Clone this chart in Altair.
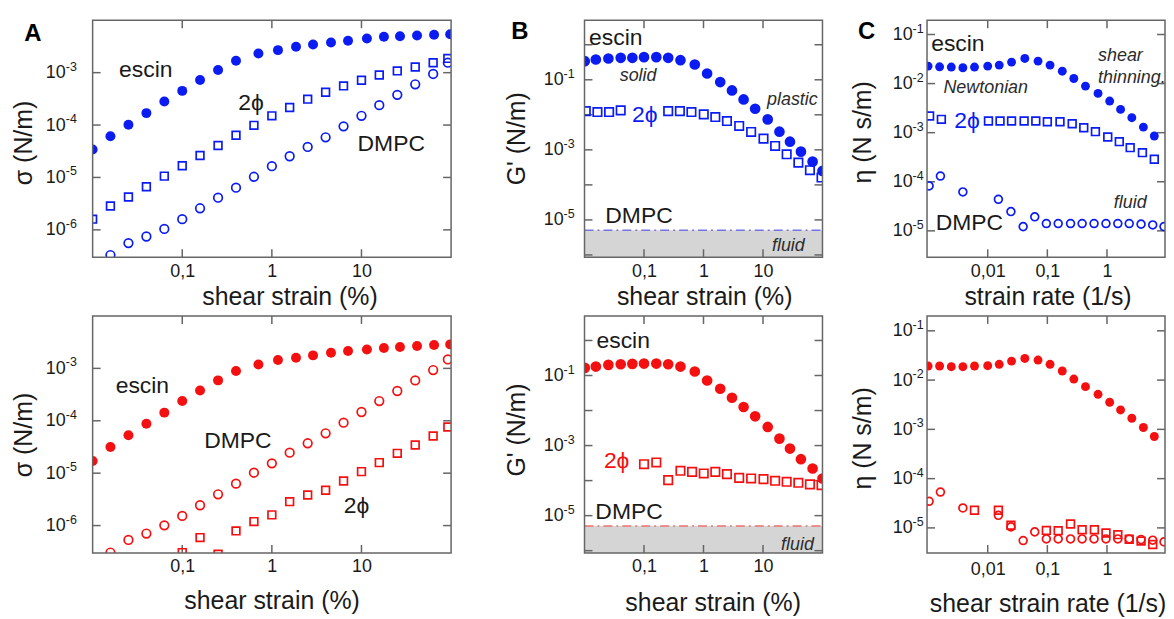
import altair as alt
import pandas as pd

# ---------------- values ----------------
strain_grid = [0.01, 0.0158, 0.0251, 0.0398, 0.0631, 0.1, 0.158, 0.251, 0.398, 0.631,
               1.0, 1.58, 2.51, 3.98, 6.31, 10.0, 15.8, 25.1, 39.8, 63.1, 92.0]
strain_escin_A = [0.01, 0.0158, 0.0251, 0.0398, 0.0631, 0.1, 0.158, 0.251, 0.398, 0.708,
                  1.17, 1.86, 2.88, 4.57, 7.08, 11.5, 17.8, 26.9, 41.7, 64.6, 97.7]
strain_dmpc_A = [0.0158, 0.0251, 0.0398, 0.0631, 0.1, 0.158, 0.251, 0.398, 0.631, 1.0,
                 1.58, 2.51, 3.98, 6.31, 10.0, 15.8, 25.1, 39.8, 63.1, 92.0]

# Panel A top (blue): sigma (N/m)
A1_escin = [3.40e-5, 6.1e-5, 1.01e-4, 1.69e-4, 2.81e-4, 4.49e-4, 7.26e-4, 1.12e-3, 1.69e-3, 2.33e-3,
            2.69e-3, 3.12e-3, 3.45e-3, 3.77e-3, 4.06e-3, 4.49e-3, 4.83e-3, 4.97e-3, 5.12e-3, 5.27e-3, 5.42e-3]
A1_2phi = [1.60e-6, 2.86e-6, 4.24e-6, 6.65e-6, 1.06e-5, 1.67e-5, 2.62e-5, 4.06e-5, 6.37e-5, 9.87e-5,
           1.50e-4, 2.16e-4, 3.12e-4, 4.24e-4, 5.59e-4, 7.15e-4, 9.03e-4, 1.08e-3, 1.28e-3, 1.55e-3, 1.87e-3]
A1_dmpc = [3.30e-7, 5.58e-7, 7.47e-7, 1.04e-6, 1.60e-6, 2.58e-6, 4.11e-6, 6.37e-6, 1.03e-5, 1.64e-5,
           2.54e-5, 3.82e-5, 5.83e-5, 9.44e-5, 1.50e-4, 2.40e-4, 3.77e-4, 6.00e-4, 9.44e-4, 1.55e-3]

# Panel A bottom (red)
A2_escin = [1.71e-5, 3.16e-5, 5.28e-5, 8.80e-5, 1.43e-4, 2.38e-4, 3.80e-4, 5.90e-4, 8.89e-4, 1.19e-3,
            1.44e-3, 1.60e-3, 1.77e-3, 1.99e-3, 2.14e-3, 2.30e-3, 2.44e-3, 2.55e-3, 2.67e-3, 2.79e-3, 2.87e-3]
A2_dmpc = [3.05e-7, 5.32e-7, 7.03e-7, 1.01e-6, 1.53e-6, 2.44e-6, 3.95e-6, 6.31e-6, 1.02e-5, 1.54e-5,
           2.46e-5, 3.72e-5, 5.76e-5, 9.20e-5, 1.47e-4, 2.38e-4, 3.70e-4, 5.90e-4, 9.29e-4, 1.48e-3]
A2_2phi_x = [0.1, 0.158, 0.251, 0.398, 0.631, 1.0, 1.58, 2.51, 3.98, 6.31, 10.0, 15.8, 25.1, 39.8, 63.1, 92.0]
A2_2phi = [3.05e-7, 5.89e-7, 2.83e-7, 7.91e-7, 1.19e-6, 1.60e-6, 2.86e-6, 3.84e-6, 4.71e-6, 7.10e-6,
           1.07e-5, 1.59e-5, 2.39e-5, 3.45e-5, 5.12e-5, 7.60e-5]

# Panel B: G' (N/m)
strain_escin_B = [0.0101, 0.0155, 0.0252, 0.0406, 0.0637, 0.1, 0.161, 0.255, 0.41, 0.714,
                  1.15, 1.91, 3.01, 4.72, 7.38, 12.0, 18.9, 28.4, 43.4, 68.2, 100.0]
B1_escin = [0.340, 0.379, 0.405, 0.424, 0.424, 0.443, 0.443, 0.424, 0.363, 0.273, 0.151,
            0.0859, 0.0497, 0.0275, 0.0149, 7.41e-3, 3.30e-3, 1.71e-3, 8.89e-4, 4.61e-4, 2.50e-4]
B1_2phi_x = [0.0105, 0.0165, 0.0259, 0.0406, 0.255, 0.401, 0.627, 1.01, 1.58, 2.48, 3.98,
             6.32, 10.2, 16.0, 25.0, 39.3, 61.5, 96.4]
B1_2phi = [0.0128, 0.0120, 0.0120, 0.0134, 0.0128, 0.0128, 0.0120, 0.0103, 8.65e-3, 6.65e-3,
           4.80e-3, 3.24e-3, 2.09e-3, 1.29e-3, 7.48e-4, 4.33e-4, 2.62e-4, 1.62e-4]
B2_escin = [0.165, 0.180, 0.201, 0.210, 0.215, 0.219, 0.219, 0.210, 0.180, 0.130, 0.0721,
            0.0418, 0.0232, 0.0126, 6.83e-3, 3.40e-3, 1.58e-3, 8.22e-4, 4.08e-4, 2.22e-4, 1.15e-4]
B2_2phi_x = [0.1, 0.161, 0.255, 0.41, 0.643, 1.01, 1.58, 2.48, 3.98, 6.32, 10.2, 16.0, 25.0, 39.3, 61.5, 96.4]
B2_2phi = [2.94e-4, 3.29e-4, 1.03e-4, 1.91e-4, 1.78e-4, 1.60e-4, 1.78e-4, 1.53e-4, 1.20e-4,
           1.15e-4, 1.10e-4, 9.89e-5, 9.27e-5, 8.68e-5, 7.78e-5, 7.45e-5]
dmpc_Gp_level = [5.1e-6]

# Panel C: eta (N s/m) vs strain rate (1/s)
rate_escin = [0.001, 0.00156, 0.00245, 0.00383, 0.0060, 0.01, 0.0156, 0.0251, 0.0419, 0.0698,
              0.111, 0.178, 0.278, 0.436, 0.708, 1.11, 1.69, 2.61, 4.08, 6.22]
C1_escin = [0.0227, 0.0220, 0.0217, 0.0210, 0.0217, 0.0227, 0.0238, 0.0274, 0.0325, 0.0287,
            0.0238, 0.0179, 0.0127, 8.89e-3, 6.31e-3, 4.41e-3, 2.98e-3, 2.02e-3, 1.30e-3, 8.55e-4]
rate_2phi_C1 = [0.00106, 0.00167, 0.0103, 0.0161, 0.0251, 0.0408, 0.064, 0.1, 0.163, 0.261,
                0.408, 0.64, 1.03, 1.61, 2.45, 3.93, 6.22]
C1_2phi = [2.18e-3, 1.87e-3, 1.73e-3, 1.73e-3, 1.73e-3, 1.73e-3, 1.73e-3, 1.67e-3, 1.67e-3,
           1.52e-3, 1.26e-3, 1.05e-3, 8.16e-4, 6.56e-4, 4.95e-4, 3.92e-4, 2.87e-4]
rate_dmpc = [0.00104, 0.00161, 0.00383, 0.0151, 0.0245, 0.0393, 0.0615, 0.0962, 0.152, 0.245,
             0.383, 0.607, 0.962, 1.52, 2.36, 3.73, 5.85, 9.04]
C1_dmpc = [8.22e-5, 1.31e-4, 6.21e-5, 4.40e-5, 2.47e-5, 1.22e-5, 1.93e-5, 1.41e-5, 1.41e-5,
           1.41e-5, 1.41e-5, 1.41e-5, 1.41e-5, 1.41e-5, 1.41e-5, 1.37e-5, 1.32e-5, 1.22e-5]
C2_escin = [0.0193, 0.0193, 0.0187, 0.0187, 0.0193, 0.0196, 0.0209, 0.0243, 0.0275, 0.0255,
            0.0209, 0.0153, 0.0105, 7.36e-3, 5.15e-3, 3.55e-3, 2.48e-3, 1.68e-3, 1.09e-3, 7.16e-4]
C2_dmpc = [3.47e-5, 5.35e-5, 2.54e-5, 1.80e-5, 1.05e-5, 5.54e-6, 8.30e-6, 5.98e-6, 5.98e-6,
           5.98e-6, 5.98e-6, 5.98e-6, 5.98e-6, 5.98e-6, 5.98e-6, 5.80e-6, 5.63e-6, 5.21e-6]
rate_2phi_C2 = [0.006, 0.0151, 0.0245, 0.0962, 0.152, 0.245, 0.383, 0.615, 0.962, 1.52, 2.36, 3.73, 5.85]
C2_2phi = [2.28e-5, 2.28e-5, 1.13e-5, 8.9e-6, 8.8e-6, 1.2e-5, 9.2e-6, 9.2e-6, 7.9e-6, 7.3e-6,
           5.9e-6, 5.4e-6, 4.6e-6]

# tick values / labels
ticks_strain = [0.1, 1, 10]
ticks_rate = [0.01, 0.1, 1]
ticks_A_y = [1e-3, 1e-4, 1e-5, 1e-6]
exps_A_y = ["-3", "-4", "-5", "-6"]
ticks_B_y = [1, 0.1, 0.01, 1e-3, 1e-4, 1e-5, 1e-6]
labels_B_y = [0.1, 1e-3, 1e-5]
exps_B_y = ["-1", "-3", "-5"]
ticks_C_y = [0.1, 0.01, 1e-3, 1e-4, 1e-5]
exps_C_y = ["-1", "-2", "-3", "-4", "-5"]

# ---------------- style ----------------
BLUE = "#0b1cf2"
RED = "#f41010"
FRAME = "#666666"
TXT = "#1a1a1a"
ITAL = "#2c2c2c"
FONT = "Liberation Sans"
TL = 8     # inward tick length
SW = 1.7   # open-marker stroke width
XLABEL = "replace(toString(datum.value), '.', ',')"


def panel(spec):
    W, VW, H = spec["w"], spec["vw"], spec["h"]
    xe = alt.X("x:Q",
               scale=alt.Scale(type="log", domain=spec["xdom"], range=[0, W], nice=False),
               axis=alt.Axis(values=spec["xlab"], labelExpr=XLABEL, ticks=False, domain=False,
                             grid=False, labelPadding=spec["xlp"], labelFontSize=18, labelFont=FONT,
                             labelColor=TXT, labelFlush=False, labelOverlap=False,
                             title=spec["xtitle"], titleX=spec["xtx"], titleY=spec["xty"],
                             titleFontSize=25, titleFont=FONT, titleFontWeight="normal",
                             titleColor=TXT))
    ye = alt.Y("y:Q",
               scale=alt.Scale(type="log", domain=spec["ydom"], nice=False),
               axis=alt.Axis(values=spec["ylab"], labelExpr="'10'", ticks=False, domain=False,
                             grid=False, labelPadding=spec["ylp"], labelFontSize=18, labelFont=FONT,
                             labelColor=TXT, labelFlush=False, labelOverlap=False,
                             title=spec["ytitle"], titleX=spec["ytx"], titleY=spec["yty"],
                             titleFontSize=25, titleFont=FONT, titleFontWeight="normal",
                             titleColor=TXT))
    layers = []
    if "band" in spec:
        level, lcolor = spec["band"]
        bdf = pd.DataFrame({"y": level, "y2": [spec["ydom"][0]]})
        layers.append(alt.Chart(bdf).mark_rect(color="#d5d5d5", clip=True).encode(
            y=ye, y2="y2:Q", x=alt.value(0), x2=alt.value(W)))
        layers.append(alt.Chart(pd.DataFrame({"y": level})).mark_rule(
            color=lcolor, strokeWidth=1.5, strokeDash=[9, 4, 2, 4]).encode(
            y=ye, x=alt.value(0), x2=alt.value(W)))
    xt = pd.DataFrame({"x": spec["xticks"]})
    yt = pd.DataFrame({"y": spec["yticks"]})
    tk = dict(color=FRAME, strokeWidth=1.5)
    layers.append(alt.Chart(xt).mark_rule(**tk).encode(x=xe, y=alt.value(0), y2=alt.value(TL)))
    layers.append(alt.Chart(xt).mark_rule(**tk).encode(x=xe, y=alt.value(H - TL), y2=alt.value(H)))
    layers.append(alt.Chart(yt).mark_rule(**tk).encode(y=ye, x=alt.value(0), x2=alt.value(TL)))
    layers.append(alt.Chart(yt).mark_rule(**tk).encode(y=ye, x=alt.value(W - TL), x2=alt.value(W)))

    # exponents of the y tick labels (superscript)
    edf = pd.DataFrame({"y": spec["ylab"], "e": spec["yexp"]})
    layers.append(alt.Chart(edf).mark_text(font=FONT, fontSize=12.5, color=TXT, align="left",
                                           baseline="middle", dy=-6).encode(
        y=ye, x=alt.value(-spec["ylp"] + 0.5), text="e:N"))

    for kind, xs, ys, color, size in spec["series"]:
        df = pd.DataFrame({"x": xs, "y": ys})
        if kind == "filled":
            m = alt.Chart(df).mark_point(shape="circle", filled=True, color=color, size=size,
                                         opacity=1, clip=True)
        else:
            m = alt.Chart(df).mark_point(shape=kind, filled=False, color=color, size=size,
                                         strokeWidth=SW, opacity=1, clip=True)
        layers.append(m.encode(x=xe, y=ye))

    for xs, ys, ts, color, size, style, align in spec["texts"]:
        df = pd.DataFrame({"x": xs, "y": ys, "t": ts})
        layers.append(alt.Chart(df).mark_text(font=FONT, fontSize=size, fontStyle=style, color=color,
                                              align=align, baseline="middle").encode(
            x=xe, y=ye, text="t:N"))

    one = pd.DataFrame({"t": [spec.get("letter", ("", 0, 0))[0]]})
    if VW > W:  # blank strip right of the frame (keeps edge markers cut at the frame)
        layers.append(alt.Chart(one).mark_rect(color="white").encode(
            x=alt.value(W), x2=alt.value(VW), y=alt.value(0), y2=alt.value(H)))
    layers.append(alt.Chart(one).mark_rect(filled=False, stroke=FRAME, strokeWidth=1.5).encode(
        x=alt.value(0), x2=alt.value(W), y=alt.value(0), y2=alt.value(H)))

    if "letter" in spec:
        t, lx, ly = spec["letter"]
        layers.append(alt.Chart(one).mark_text(
            font=FONT, fontSize=24, fontWeight="bold", color="#000", align="center",
            baseline="middle").encode(x=alt.value(lx), y=alt.value(ly), text="t:N"))
    return alt.layer(*layers).properties(width=VW, height=H)


WA, WB, WC, H = 360, 239, 239, 238
VWA = 389   # A cell is wider than its frame so both column gaps come out right
MAIN = 23

A1 = panel(dict(
    w=WA, vw=VWA, h=H, xdom=[0.01, 100], ydom=[3e-7, 1e-2], xlab=ticks_strain, xticks=ticks_strain,
    ylab=ticks_A_y, yexp=exps_A_y, yticks=ticks_A_y, xlp=5, ylp=27.5,
    xtitle="shear strain (%)", xtx=197.7, xty=27, ytitle="σ (N/m)", ytx=-56, yty=122.7,
    series=[("filled", strain_escin_A, A1_escin, BLUE, 100),
            ("square", strain_grid, A1_2phi, BLUE, 60),
            ("circle", strain_dmpc_A, A1_dmpc, BLUE, 75)],
    texts=[([0.0392, 0.587, 21.5], [1.11e-3, 2.66e-4, 4.30e-5], ["escin", "2ϕ", "DMPC"],
            TXT, MAIN, "normal", "center")],
    letter=("A", -60, 14)))

A2 = panel(dict(
    w=WA, vw=VWA, h=H, xdom=[0.01, 100], ydom=[3e-7, 1e-2], xlab=ticks_strain, xticks=ticks_strain,
    ylab=ticks_A_y, yexp=exps_A_y, yticks=ticks_A_y, xlp=5, ylp=27.5,
    xtitle="shear strain (%)", xtx=179.7, xty=36, ytitle="σ (N/m)", ytx=-56, yty=119,
    series=[("filled", strain_escin_A, A2_escin, RED, 100),
            ("circle", strain_dmpc_A, A2_dmpc, RED, 75),
            ("square", A2_2phi_x, A2_2phi, RED, 60)],
    texts=[([0.0359, 0.418, 8.8], [4.61e-4, 4.17e-5, 2.31e-6], ["escin", "DMPC", "2ϕ"],
            TXT, MAIN, "normal", "center")]))

B1 = panel(dict(
    w=WB, vw=WB, h=H, xdom=[0.01, 100], ydom=[8.6e-7, 5.0], xlab=ticks_strain, xticks=ticks_strain,
    ylab=labels_B_y, yexp=exps_B_y, yticks=ticks_B_y, xlp=5, ylp=21.5,
    xtitle="shear strain (%)", xtx=120.2, xty=27, ytitle="G' (N/m)", ytx=-55, yty=118.5,
    band=(dmpc_Gp_level, "#7474e6"),
    series=[("filled", strain_escin_B, B1_escin, BLUE, 115),
            ("square", B1_2phi_x, B1_2phi, BLUE, 72)],
    texts=[([0.0335, 0.0825], [1.58, 1.27e-5], ["escin", "DMPC"], TXT, MAIN, "normal", "center"),
           ([0.103], [0.0100], ["2ϕ"], BLUE, MAIN, "normal", "center"),
           ([0.0796, 31.2, 26.7], [0.126, 0.0259, 1.80e-6], ["solid", "plastic", "fluid"],
            ITAL, 18, "italic", "center")],
    letter=("B", -65, 11.5)))

B2 = panel(dict(
    w=WB, vw=WB, h=H, xdom=[0.01, 100], ydom=[8.6e-7, 5.0], xlab=ticks_strain, xticks=ticks_strain,
    ylab=labels_B_y, yexp=exps_B_y, yticks=ticks_B_y, xlp=5, ylp=21.5,
    xtitle="shear strain (%)", xtx=128.7, xty=38, ytitle="G' (N/m)", ytx=-55, yty=114,
    band=(dmpc_Gp_level, "#ee7070"),
    series=[("filled", strain_escin_B, B2_escin, RED, 115),
            ("square", B2_2phi_x, B2_2phi, RED, 72)],
    texts=[([0.0447, 0.0561], [0.938, 1.24e-5], ["escin", "DMPC"], TXT, MAIN, "normal", "center"),
           ([0.0347], [3.72e-4], ["2ϕ"], RED, MAIN, "normal", "center"),
           ([37.9], [1.46e-6], ["fluid"], ITAL, 18, "italic", "center")]))

C1 = panel(dict(
    w=WC, vw=WC, h=H, xdom=[9.6e-4, 9.4], ydom=[2.9e-6, 0.195], xlab=ticks_rate, xticks=ticks_rate,
    ylab=ticks_C_y, yexp=exps_C_y, yticks=ticks_C_y, xlp=5, ylp=15,
    xtitle="strain rate (1/s)", xtx=121, xty=27, ytitle="η (N s/m)", ytx=-52, yty=112,
    series=[("filled", rate_escin, C1_escin, BLUE, 80),
            ("square", rate_2phi_C1, C1_2phi, BLUE, 60),
            ("circle", rate_dmpc, C1_dmpc, BLUE, 62)],
    texts=[([3.16e-3, 4.93e-3], [0.0653, 1.46e-5], ["escin", "DMPC"], TXT, MAIN, "normal", "center"),
           ([4.49e-3], [1.75e-3], ["2ϕ"], BLUE, MAIN, "normal", "center"),
           ([9.26e-3, 2.45], [8.18e-3, 3.76e-5], ["Newtonian", "fluid"], ITAL, 18, "italic", "center"),
           ([0.708, 0.708], [0.0367, 0.0132], ["shear", "thinning."], ITAL, 18, "italic", "left")],
    letter=("C", -60.7, 11.5)))

C2 = panel(dict(
    w=WC, vw=WC, h=H, xdom=[9.6e-4, 9.4], ydom=[3.1e-6, 0.2], xlab=ticks_rate, xticks=ticks_rate,
    ylab=ticks_C_y, yexp=exps_C_y, yticks=ticks_C_y, xlp=8, ylp=15,
    xtitle="shear strain rate (1/s)", xtx=121, xty=39, ytitle="η (N s/m)", ytx=-52, yty=122.5,
    series=[("filled", rate_escin, C2_escin, RED, 80),
            ("circle", rate_dmpc, C2_dmpc, RED, 62),
            ("square", rate_2phi_C2, C2_2phi, RED, 60)],
    texts=[]))

chart = alt.ConcatChart(
    concat=[A1, B1, C1, A2, B2, C2], columns=3,
    spacing={"row": 59, "column": 105}, bounds="flush", align="each",
    padding={"left": 4, "top": 10, "right": 0, "bottom": 0},
).configure(font=FONT).configure_view(stroke="transparent", strokeOpacity=0)

chart.save("out.html", embed_options={"renderer": "svg", "actions": False})
